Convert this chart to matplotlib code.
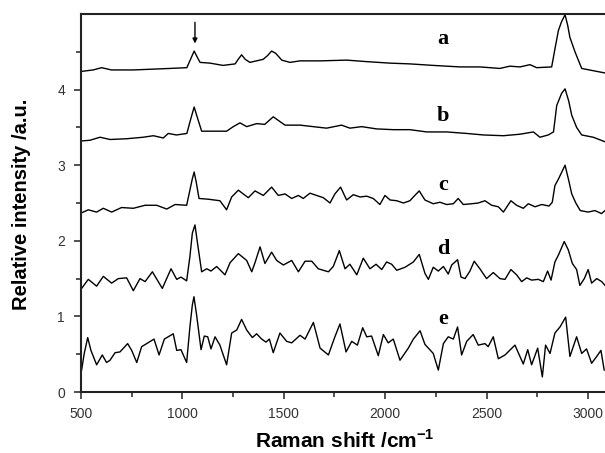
import matplotlib
matplotlib.use("Agg")
import matplotlib.pyplot as plt
from matplotlib.ticker import MultipleLocator, FixedLocator

# ---- data ----
a_x = [500, 560, 602, 650, 757, 850, 939, 1022, 1040, 1058, 1075, 1087, 1137, 1200, 1260, 1275, 1292, 1310, 1333, 1398, 1420, 1440, 1460, 1490, 1530, 1580, 1679, 1810, 1909, 2024, 2122, 2237, 2369, 2467, 2566, 2615, 2665, 2714, 2747, 2821, 2838, 2854, 2870, 2887, 2900, 2911, 2936, 2969, 3026, 3084]
a_y = [4.24, 4.26, 4.29, 4.26, 4.26, 4.27, 4.28, 4.29, 4.40, 4.51, 4.42, 4.36, 4.35, 4.32, 4.34, 4.40, 4.46, 4.40, 4.36, 4.40, 4.45, 4.51, 4.48, 4.39, 4.36, 4.38, 4.38, 4.39, 4.37, 4.35, 4.34, 4.32, 4.30, 4.30, 4.28, 4.31, 4.30, 4.33, 4.29, 4.30, 4.55, 4.78, 4.90, 4.99, 4.85, 4.69, 4.50, 4.28, 4.25, 4.22]

b_x = [500, 544, 594, 643, 725, 807, 857, 906, 930, 971, 1022, 1040, 1058, 1075, 1095, 1218, 1251, 1284, 1317, 1366, 1406, 1448, 1506, 1580, 1645, 1711, 1785, 1826, 1884, 1958, 2040, 2122, 2205, 2303, 2402, 2484, 2583, 2665, 2731, 2763, 2804, 2830, 2846, 2870, 2887, 2905, 2920, 2944, 2969, 3026, 3084]
b_y = [3.32, 3.33, 3.37, 3.34, 3.35, 3.37, 3.39, 3.36, 3.42, 3.40, 3.42, 3.60, 3.77, 3.62, 3.45, 3.45, 3.51, 3.56, 3.51, 3.55, 3.54, 3.64, 3.53, 3.53, 3.51, 3.49, 3.53, 3.49, 3.51, 3.48, 3.47, 3.47, 3.44, 3.44, 3.42, 3.40, 3.39, 3.41, 3.44, 3.37, 3.40, 3.44, 3.79, 3.95, 4.01, 3.85, 3.66, 3.50, 3.40, 3.37, 3.31]

c_x = [503, 536, 577, 610, 651, 700, 758, 816, 873, 923, 964, 1021, 1037, 1049, 1058, 1068, 1082, 1128, 1185, 1218, 1243, 1276, 1300, 1325, 1358, 1399, 1440, 1473, 1506, 1539, 1572, 1596, 1629, 1662, 1695, 1728, 1752, 1780, 1810, 1843, 1876, 1909, 1941, 1974, 1999, 2024, 2057, 2090, 2122, 2139, 2168, 2196, 2237, 2270, 2303, 2336, 2360, 2385, 2426, 2459, 2492, 2525, 2558, 2583, 2620, 2648, 2681, 2706, 2739, 2772, 2808, 2824, 2837, 2855, 2887, 2905, 2920, 2940, 2962, 3001, 3034, 3067, 3084]
c_y = [2.37, 2.41, 2.38, 2.43, 2.38, 2.44, 2.43, 2.47, 2.47, 2.42, 2.48, 2.47, 2.67, 2.82, 2.91, 2.78, 2.56, 2.55, 2.53, 2.41, 2.58, 2.67, 2.62, 2.57, 2.66, 2.60, 2.71, 2.60, 2.62, 2.56, 2.60, 2.56, 2.63, 2.60, 2.57, 2.50, 2.62, 2.71, 2.54, 2.61, 2.58, 2.59, 2.56, 2.48, 2.60, 2.54, 2.53, 2.50, 2.53, 2.58, 2.66, 2.54, 2.49, 2.51, 2.48, 2.49, 2.56, 2.48, 2.49, 2.50, 2.53, 2.47, 2.45, 2.38, 2.53, 2.47, 2.43, 2.49, 2.45, 2.48, 2.46, 2.51, 2.73, 2.82, 3.00, 2.80, 2.62, 2.50, 2.40, 2.38, 2.40, 2.36, 2.40]

d_x = [503, 536, 577, 610, 651, 684, 725, 758, 791, 816, 852, 901, 944, 972, 993, 1021, 1037, 1049, 1062, 1075, 1095, 1120, 1141, 1169, 1210, 1235, 1276, 1317, 1342, 1358, 1383, 1407, 1440, 1465, 1498, 1539, 1572, 1605, 1638, 1670, 1720, 1744, 1774, 1802, 1826, 1860, 1892, 1925, 1955, 1983, 2007, 2032, 2057, 2098, 2139, 2168, 2196, 2213, 2237, 2262, 2287, 2311, 2328, 2357, 2374, 2394, 2418, 2439, 2467, 2500, 2533, 2566, 2591, 2620, 2648, 2673, 2698, 2722, 2755, 2780, 2801, 2818, 2837, 2854, 2883, 2903, 2923, 2944, 2960, 2982, 3001, 3018, 3043, 3068, 3084]
d_y = [1.37, 1.49, 1.40, 1.53, 1.44, 1.50, 1.51, 1.34, 1.50, 1.46, 1.59, 1.37, 1.63, 1.49, 1.52, 1.47, 1.79, 2.10, 2.21, 1.96, 1.59, 1.63, 1.60, 1.66, 1.55, 1.71, 1.83, 1.74, 1.59, 1.71, 1.92, 1.70, 1.85, 1.74, 1.68, 1.74, 1.59, 1.73, 1.73, 1.63, 1.59, 1.66, 1.87, 1.63, 1.69, 1.55, 1.77, 1.63, 1.69, 1.62, 1.72, 1.69, 1.61, 1.65, 1.72, 1.82, 1.57, 1.49, 1.65, 1.60, 1.66, 1.56, 1.68, 1.75, 1.52, 1.50, 1.60, 1.73, 1.63, 1.50, 1.58, 1.50, 1.49, 1.62, 1.55, 1.46, 1.51, 1.48, 1.49, 1.46, 1.60, 1.48, 1.72, 1.81, 1.99, 1.88, 1.70, 1.62, 1.41, 1.50, 1.62, 1.44, 1.50, 1.46, 1.41]

e_x = [503, 516, 533, 549, 577, 605, 626, 643, 668, 692, 730, 750, 775, 799, 824, 860, 885, 911, 955, 972, 993, 1021, 1037, 1049, 1057, 1070, 1092, 1108, 1125, 1141, 1161, 1185, 1218, 1243, 1268, 1292, 1317, 1345, 1366, 1391, 1412, 1429, 1448, 1481, 1514, 1539, 1580, 1605, 1646, 1679, 1720, 1752, 1777, 1807, 1835, 1863, 1889, 1909, 1933, 1966, 1991, 2015, 2040, 2073, 2114, 2139, 2172, 2196, 2237, 2262, 2287, 2311, 2336, 2357, 2377, 2402, 2434, 2459, 2492, 2508, 2533, 2558, 2591, 2640, 2681, 2703, 2722, 2752, 2775, 2791, 2813, 2837, 2862, 2890, 2911, 2944, 2969, 2993, 3018, 3043, 3064, 3080]
e_y = [0.29, 0.51, 0.72, 0.55, 0.36, 0.49, 0.39, 0.42, 0.52, 0.53, 0.64, 0.55, 0.39, 0.60, 0.64, 0.70, 0.49, 0.70, 0.77, 0.55, 0.56, 0.39, 0.86, 1.15, 1.26, 1.02, 0.56, 0.74, 0.73, 0.57, 0.73, 0.62, 0.36, 0.78, 0.82, 0.96, 0.82, 0.72, 0.77, 0.70, 0.66, 0.70, 0.52, 0.78, 0.67, 0.65, 0.75, 0.70, 0.92, 0.58, 0.49, 0.73, 0.90, 0.53, 0.67, 0.62, 0.85, 0.73, 0.74, 0.48, 0.76, 0.65, 0.70, 0.42, 0.58, 0.70, 0.81, 0.63, 0.51, 0.29, 0.64, 0.73, 0.70, 0.86, 0.49, 0.67, 0.76, 0.62, 0.64, 0.60, 0.73, 0.44, 0.49, 0.62, 0.37, 0.56, 0.36, 0.58, 0.20, 0.62, 0.51, 0.78, 0.86, 0.99, 0.47, 0.73, 0.51, 0.57, 0.38, 0.47, 0.55, 0.29]

series_names = ["a", "b", "c", "d", "e"]
label_x = 2285
label_y = [4.606, 3.584, 2.668, 1.823, 0.898]
arrow_x = 1062
arrow_y = [4.89, 4.61]

x_limits = [500, 3084]
y_limits = [0, 5]
y_ticks = [0, 1, 2, 3, 4]
y_minor_ticks = [0.5, 1.5, 2.5, 3.5, 4.5]

# ---- figure ----
plt.rcParams['font.family'] = ['Liberation Sans', 'DejaVu Sans']
plt.rcParams['mathtext.fontset'] = 'custom'
plt.rcParams['mathtext.bf'] = 'Liberation Sans:bold'
plt.rcParams['mathtext.rm'] = 'Liberation Sans:bold'

W, H = 605, 453
fig = plt.figure(figsize=(W / 100, H / 100), dpi=100)
ax = fig.add_axes([81 / W, 61 / H, 524 / W, 378 / H])

xs = [a_x, b_x, c_x, d_x, e_x]
ys = [a_y, b_y, c_y, d_y, e_y]
for x, y in zip(xs, ys):
    ax.plot(x, y, color='black', lw=1.0)

for name, ly in zip(series_names, label_y):
    ax.text(label_x, ly, name, family='Liberation Serif', fontweight='bold',
            fontsize=16, ha='center', va='baseline', color='black')

ax.annotate('', xy=(arrow_x, arrow_y[1]), xytext=(arrow_x, arrow_y[0]),
            arrowprops=dict(arrowstyle='-|>', color='black', lw=1.0,
                            mutation_scale=7, shrinkA=0, shrinkB=0))

ax.set_xlim(*x_limits)
ax.set_ylim(*y_limits)
ax.xaxis.set_major_locator(MultipleLocator(500))
ax.xaxis.set_minor_locator(MultipleLocator(250))
ax.yaxis.set_major_locator(FixedLocator(y_ticks))
ax.yaxis.set_minor_locator(FixedLocator(y_minor_ticks))

for s in ['left', 'bottom', 'top']:
    ax.spines[s].set_linewidth(1.5)
    ax.spines[s].set_color('#222222')
ax.spines['right'].set_visible(False)

ax.tick_params(which='both', direction='out', top=False, right=False,
               color='#222222', width=1.1)
ax.tick_params(which='major', length=5)
ax.tick_params(which='minor', length=3.3)
ax.tick_params(axis='x', which='major', pad=5.5, labelsize=10, labelcolor='#333333')
ax.tick_params(axis='y', which='major', pad=6.5, labelsize=10, labelcolor='#333333')

fig.text(22 / W, 1 - 204 / H, 'Relative intensity /a.u.', rotation=90,
         ha='center', va='center', fontsize=14.5, fontweight='bold')
fig.text(345 / W, 5 / H, r'Raman shift /cm$^{\mathbf{-1}}$',
         ha='center', va='baseline', fontsize=15, fontweight='bold')

fig.savefig('out.png', dpi=100)
